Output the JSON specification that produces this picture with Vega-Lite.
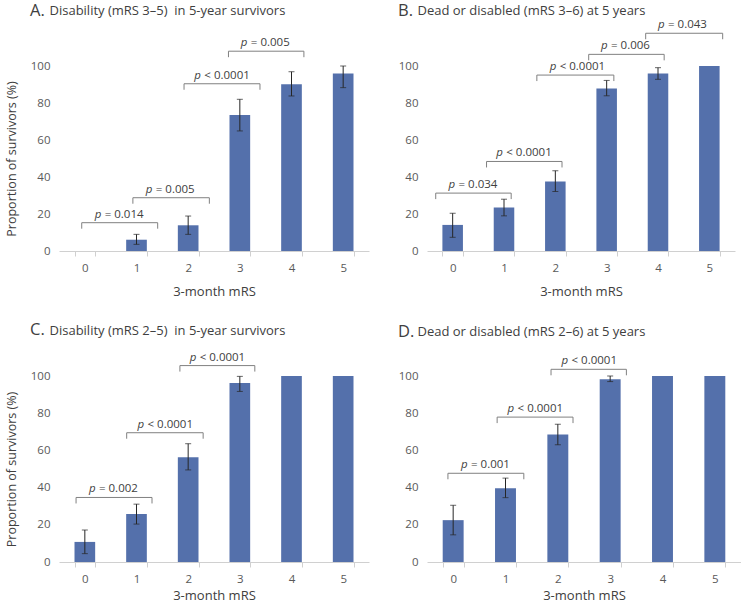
{
  "$schema": "https://vega.github.io/schema/vega-lite/v6.json",
  "background": "white",
  "padding": {"left": 5, "top": 2, "right": 0, "bottom": 0},
  "datasets": {
    "barsA": [
      {"mrs": "0", "value": 0, "lo": null, "hi": null},
      {"mrs": "1", "value": 6.1, "lo": 3.6, "hi": 9.0},
      {"mrs": "2", "value": 13.9, "lo": 9.0, "hi": 18.9},
      {"mrs": "3", "value": 73.5, "lo": 64.9, "hi": 82.0},
      {"mrs": "4", "value": 90.1, "lo": 83.8, "hi": 96.9},
      {"mrs": "5", "value": 95.9, "lo": 88.3, "hi": 100}
    ],
    "barsB": [
      {"mrs": "0", "value": 14.1, "lo": 7.4, "hi": 20.4},
      {"mrs": "1", "value": 23.5, "lo": 19.0, "hi": 28.0},
      {"mrs": "2", "value": 37.6, "lo": 32.2, "hi": 43.4},
      {"mrs": "3", "value": 87.9, "lo": 83.9, "hi": 92.2},
      {"mrs": "4", "value": 96.0, "lo": 92.8, "hi": 99.1},
      {"mrs": "5", "value": 100, "lo": null, "hi": null}
    ],
    "barsC": [
      {"mrs": "0", "value": 10.8, "lo": 4.5, "hi": 17.2},
      {"mrs": "1", "value": 25.8, "lo": 20.4, "hi": 31.1},
      {"mrs": "2", "value": 56.3, "lo": 49.5, "hi": 63.6},
      {"mrs": "3", "value": 96.2, "lo": 91.7, "hi": 99.8},
      {"mrs": "4", "value": 100, "lo": null, "hi": null},
      {"mrs": "5", "value": 100, "lo": null, "hi": null}
    ],
    "barsD": [
      {"mrs": "0", "value": 22.5, "lo": 14.6, "hi": 30.5},
      {"mrs": "1", "value": 39.7, "lo": 34.6, "hi": 45.1},
      {"mrs": "2", "value": 68.5, "lo": 63.0, "hi": 74.1},
      {"mrs": "3", "value": 98.2, "lo": 97.0, "hi": 100},
      {"mrs": "4", "value": 100, "lo": null, "hi": null},
      {"mrs": "5", "value": 100, "lo": null, "hi": null}
    ],
    "brA": [
      {"x1": -0.06, "x2": 1.41, "y": 15.3, "lx": 0.19, "rest": "= 0.014"},
      {"x1": 0.93, "x2": 2.41, "y": 28.8, "lx": 1.18, "rest": "= 0.005"},
      {"x1": 1.92, "x2": 3.39, "y": 90.4, "lx": 2.12, "rest": "< 0.0001"},
      {"x1": 2.78, "x2": 4.24, "y": 108, "lx": 3.02, "rest": "= 0.005"}
    ],
    "brB": [
      {"x1": -0.33, "x2": 1.14, "y": 31.3, "lx": -0.08, "rest": "= 0.034"},
      {"x1": 0.66, "x2": 2.13, "y": 48.4, "lx": 0.85, "rest": "< 0.0001"},
      {"x1": 1.64, "x2": 3.14, "y": 95.1, "lx": 1.89, "rest": "< 0.0001"},
      {"x1": 2.65, "x2": 4.12, "y": 106.3, "lx": 2.89, "rest": "= 0.006"},
      {"x1": 3.76, "x2": 5.26, "y": 117.7, "lx": 4.0, "rest": "= 0.043"}
    ],
    "brC": [
      {"x1": -0.17, "x2": 1.30, "y": 34.7, "lx": 0.08, "rest": "= 0.002"},
      {"x1": 0.81, "x2": 2.29, "y": 69.5, "lx": 1.02, "rest": "< 0.0001"},
      {"x1": 1.84, "x2": 3.29, "y": 105.6, "lx": 2.03, "rest": "< 0.0001"}
    ],
    "brD": [
      {"x1": -0.10, "x2": 1.35, "y": 47.7, "lx": 0.15, "rest": "= 0.001"},
      {"x1": 0.84, "x2": 2.29, "y": 77.9, "lx": 1.04, "rest": "< 0.0001"},
      {"x1": 1.87, "x2": 3.31, "y": 103.6, "lx": 2.07, "rest": "< 0.0001"}
    ]
  },
  "columns": 2,
  "bounds": "flush",
  "spacing": {"row": 125, "column": 58},
  "concat": [
    {
      "width": 310, "height": 185,
      "title": {"text": "A.", "subtitle": "\u200b\u2003\u2002Disability (mRS 3\u20135)\u00a0 in 5-year survivors", "offset": 18},
      "resolve": {"scale": {"x": "independent"}},
      "layer": [
        {
          "data": {"name": "barsA"},
          "layer": [
            {"mark": {"type": "bar", "color": "#5470ab"},
             "encoding": {
               "x": {"field": "mrs", "type": "ordinal", "title": "3-month mRS", "scale": {"paddingInner": 0.6, "paddingOuter": 0.3}, "axis": {"labelAngle": 0, "tickBand": "extent", "titlePadding": 12}},
               "y": {"field": "value", "type": "quantitative", "scale": {"domain": [0, 100]}, "title": "Proportion of survivors (%)"}
             }},
            {"mark": {"type": "rule", "color": "#262626"},
             "encoding": {"x": {"field": "mrs", "type": "ordinal"}, "y": {"field": "lo", "type": "quantitative", "title": "Proportion of survivors (%)"}, "y2": {"field": "hi"}}},
            {"mark": {"type": "tick", "color": "#262626", "size": 6, "thickness": 1},
             "encoding": {"x": {"field": "mrs", "type": "ordinal"}, "y": {"field": "lo", "type": "quantitative", "title": "Proportion of survivors (%)"}}},
            {"mark": {"type": "tick", "color": "#262626", "size": 6, "thickness": 1},
             "encoding": {"x": {"field": "mrs", "type": "ordinal"}, "y": {"field": "hi", "type": "quantitative", "title": "Proportion of survivors (%)"}}}
          ]
        },
        {
          "data": {"name": "brA"},
          "encoding": {"y": {"field": "y", "type": "quantitative", "title": "Proportion of survivors (%)"}},
          "layer": [
            {"mark": {"type": "rule", "color": "#808080"}, "encoding": {"x": {"field": "x1", "type": "quantitative", "scale": {"domain": [-0.5, 5.5]}, "axis": null}, "x2": {"field": "x2"}}},
            {"mark": {"type": "rule", "color": "#808080", "y2Offset": 6}, "encoding": {"x": {"field": "x1", "type": "quantitative", "axis": null}, "y2": {"field": "y"}}},
            {"mark": {"type": "rule", "color": "#808080", "y2Offset": 6}, "encoding": {"x": {"field": "x2", "type": "quantitative", "axis": null}, "y2": {"field": "y"}}},
            {"mark": {"type": "text", "text": "p", "fontStyle": "italic", "align": "left", "baseline": "alphabetic", "dy": -5, "fontSize": 11.5, "color": "#404040"}, "encoding": {"x": {"field": "lx", "type": "quantitative", "axis": null}}},
            {"mark": {"type": "text", "align": "left", "baseline": "alphabetic", "dy": -5, "dx": 10, "fontSize": 11.5, "color": "#404040"}, "encoding": {"x": {"field": "lx", "type": "quantitative", "axis": null}, "text": {"field": "rest"}}}
          ]
        }
      ]
    },
    {
      "width": 308, "height": 185,
      "title": {"text": "B.", "subtitle": "\u200b\u2003\u2002Dead or disabled (mRS 3\u20136) at 5 years", "offset": 0},
      "resolve": {"scale": {"x": "independent"}},
      "layer": [
        {
          "data": {"name": "barsB"},
          "layer": [
            {"mark": {"type": "bar", "color": "#5470ab"},
             "encoding": {
               "x": {"field": "mrs", "type": "ordinal", "title": "3-month mRS", "scale": {"paddingInner": 0.6, "paddingOuter": 0.3}, "axis": {"labelAngle": 0, "tickBand": "extent", "titlePadding": 12}},
               "y": {"field": "value", "type": "quantitative", "scale": {"domain": [0, 100]}, "title": null}
             }},
            {"mark": {"type": "rule", "color": "#262626"},
             "encoding": {"x": {"field": "mrs", "type": "ordinal"}, "y": {"field": "lo", "type": "quantitative", "title": null}, "y2": {"field": "hi"}}},
            {"mark": {"type": "tick", "color": "#262626", "size": 6, "thickness": 1},
             "encoding": {"x": {"field": "mrs", "type": "ordinal"}, "y": {"field": "lo", "type": "quantitative", "title": null}}},
            {"mark": {"type": "tick", "color": "#262626", "size": 6, "thickness": 1},
             "encoding": {"x": {"field": "mrs", "type": "ordinal"}, "y": {"field": "hi", "type": "quantitative", "title": null}}}
          ]
        },
        {
          "data": {"name": "brB"},
          "encoding": {"y": {"field": "y", "type": "quantitative", "title": null}},
          "layer": [
            {"mark": {"type": "rule", "color": "#808080"}, "encoding": {"x": {"field": "x1", "type": "quantitative", "scale": {"domain": [-0.5, 5.5]}, "axis": null}, "x2": {"field": "x2"}}},
            {"mark": {"type": "rule", "color": "#808080", "y2Offset": 6}, "encoding": {"x": {"field": "x1", "type": "quantitative", "axis": null}, "y2": {"field": "y"}}},
            {"mark": {"type": "rule", "color": "#808080", "y2Offset": 6}, "encoding": {"x": {"field": "x2", "type": "quantitative", "axis": null}, "y2": {"field": "y"}}},
            {"mark": {"type": "text", "text": "p", "fontStyle": "italic", "align": "left", "baseline": "alphabetic", "dy": -5, "fontSize": 11.5, "color": "#404040"}, "encoding": {"x": {"field": "lx", "type": "quantitative", "axis": null}}},
            {"mark": {"type": "text", "align": "left", "baseline": "alphabetic", "dy": -5, "dx": 10, "fontSize": 11.5, "color": "#404040"}, "encoding": {"x": {"field": "lx", "type": "quantitative", "axis": null}, "text": {"field": "rest"}}}
          ]
        }
      ]
    },
    {
      "width": 310, "height": 186,
      "title": {"text": "C.", "subtitle": "\u200b\u2003\u2002Disability (mRS 2\u20135)\u00a0 in 5-year survivors", "offset": 13},
      "resolve": {"scale": {"x": "independent"}},
      "layer": [
        {
          "data": {"name": "barsC"},
          "layer": [
            {"mark": {"type": "bar", "color": "#5470ab"},
             "encoding": {
               "x": {"field": "mrs", "type": "ordinal", "title": "3-month mRS", "scale": {"paddingInner": 0.6, "paddingOuter": 0.3}, "axis": {"labelAngle": 0, "tickBand": "extent", "titlePadding": 5}},
               "y": {"field": "value", "type": "quantitative", "scale": {"domain": [0, 100]}, "title": "Proportion of survivors (%)"}
             }},
            {"mark": {"type": "rule", "color": "#262626"},
             "encoding": {"x": {"field": "mrs", "type": "ordinal"}, "y": {"field": "lo", "type": "quantitative", "title": "Proportion of survivors (%)"}, "y2": {"field": "hi"}}},
            {"mark": {"type": "tick", "color": "#262626", "size": 6, "thickness": 1},
             "encoding": {"x": {"field": "mrs", "type": "ordinal"}, "y": {"field": "lo", "type": "quantitative", "title": "Proportion of survivors (%)"}}},
            {"mark": {"type": "tick", "color": "#262626", "size": 6, "thickness": 1},
             "encoding": {"x": {"field": "mrs", "type": "ordinal"}, "y": {"field": "hi", "type": "quantitative", "title": "Proportion of survivors (%)"}}}
          ]
        },
        {
          "data": {"name": "brC"},
          "encoding": {"y": {"field": "y", "type": "quantitative", "title": "Proportion of survivors (%)"}},
          "layer": [
            {"mark": {"type": "rule", "color": "#808080"}, "encoding": {"x": {"field": "x1", "type": "quantitative", "scale": {"domain": [-0.5, 5.5]}, "axis": null}, "x2": {"field": "x2"}}},
            {"mark": {"type": "rule", "color": "#808080", "y2Offset": 6}, "encoding": {"x": {"field": "x1", "type": "quantitative", "axis": null}, "y2": {"field": "y"}}},
            {"mark": {"type": "rule", "color": "#808080", "y2Offset": 6}, "encoding": {"x": {"field": "x2", "type": "quantitative", "axis": null}, "y2": {"field": "y"}}},
            {"mark": {"type": "text", "text": "p", "fontStyle": "italic", "align": "left", "baseline": "alphabetic", "dy": -5, "fontSize": 11.5, "color": "#404040"}, "encoding": {"x": {"field": "lx", "type": "quantitative", "axis": null}}},
            {"mark": {"type": "text", "align": "left", "baseline": "alphabetic", "dy": -5, "dx": 10, "fontSize": 11.5, "color": "#404040"}, "encoding": {"x": {"field": "lx", "type": "quantitative", "axis": null}, "text": {"field": "rest"}}}
          ]
        }
      ]
    },
    {
      "width": 314, "height": 186,
      "title": {"text": "D.", "subtitle": "\u200b\u2003\u2002Dead or disabled (mRS 2\u20136) at 5 years", "offset": 15},
      "resolve": {"scale": {"x": "independent"}},
      "layer": [
        {
          "data": {"name": "barsD"},
          "layer": [
            {"mark": {"type": "bar", "color": "#5470ab"},
             "encoding": {
               "x": {"field": "mrs", "type": "ordinal", "title": "3-month mRS", "scale": {"paddingInner": 0.6, "paddingOuter": 0.3}, "axis": {"labelAngle": 0, "tickBand": "extent", "titlePadding": 5}},
               "y": {"field": "value", "type": "quantitative", "scale": {"domain": [0, 100]}, "title": null}
             }},
            {"mark": {"type": "rule", "color": "#262626"},
             "encoding": {"x": {"field": "mrs", "type": "ordinal"}, "y": {"field": "lo", "type": "quantitative", "title": null}, "y2": {"field": "hi"}}},
            {"mark": {"type": "tick", "color": "#262626", "size": 6, "thickness": 1},
             "encoding": {"x": {"field": "mrs", "type": "ordinal"}, "y": {"field": "lo", "type": "quantitative", "title": null}}},
            {"mark": {"type": "tick", "color": "#262626", "size": 6, "thickness": 1},
             "encoding": {"x": {"field": "mrs", "type": "ordinal"}, "y": {"field": "hi", "type": "quantitative", "title": null}}}
          ]
        },
        {
          "data": {"name": "brD"},
          "encoding": {"y": {"field": "y", "type": "quantitative", "title": null}},
          "layer": [
            {"mark": {"type": "rule", "color": "#808080"}, "encoding": {"x": {"field": "x1", "type": "quantitative", "scale": {"domain": [-0.5, 5.5]}, "axis": null}, "x2": {"field": "x2"}}},
            {"mark": {"type": "rule", "color": "#808080", "y2Offset": 6}, "encoding": {"x": {"field": "x1", "type": "quantitative", "axis": null}, "y2": {"field": "y"}}},
            {"mark": {"type": "rule", "color": "#808080", "y2Offset": 6}, "encoding": {"x": {"field": "x2", "type": "quantitative", "axis": null}, "y2": {"field": "y"}}},
            {"mark": {"type": "text", "text": "p", "fontStyle": "italic", "align": "left", "baseline": "alphabetic", "dy": -5, "fontSize": 11.5, "color": "#404040"}, "encoding": {"x": {"field": "lx", "type": "quantitative", "axis": null}}},
            {"mark": {"type": "text", "align": "left", "baseline": "alphabetic", "dy": -5, "dx": 10, "fontSize": 11.5, "color": "#404040"}, "encoding": {"x": {"field": "lx", "type": "quantitative", "axis": null}, "text": {"field": "rest"}}}
          ]
        }
      ]
    }
  ],
  "config": {
    "font": "Open Sans",
    "view": {"stroke": null},
    "axis": {"grid": false, "labelFont": "Open Sans", "titleFont": "Open Sans", "labelColor": "#595959", "titleColor": "#404040", "titleFontWeight": "normal", "labelFontSize": 11.5, "titleFontSize": 13},
    "axisY": {"domain": false, "ticks": false, "tickCount": 5, "labelPadding": 9, "titleFontSize": 12.5, "titlePadding": 12},
    "axisX": {"domainColor": "#d0d0d0", "tickColor": "#d0d0d0", "tickSize": 5, "labelPadding": 6},
    "title": {"anchor": "start", "frame": "group", "font": "Open Sans", "fontSize": 16.5, "fontWeight": "normal", "color": "#404040", "subtitleFont": "Open Sans", "subtitleFontSize": 13, "subtitleColor": "#404040", "subtitlePadding": -14, "dx": -29}
  }
}
